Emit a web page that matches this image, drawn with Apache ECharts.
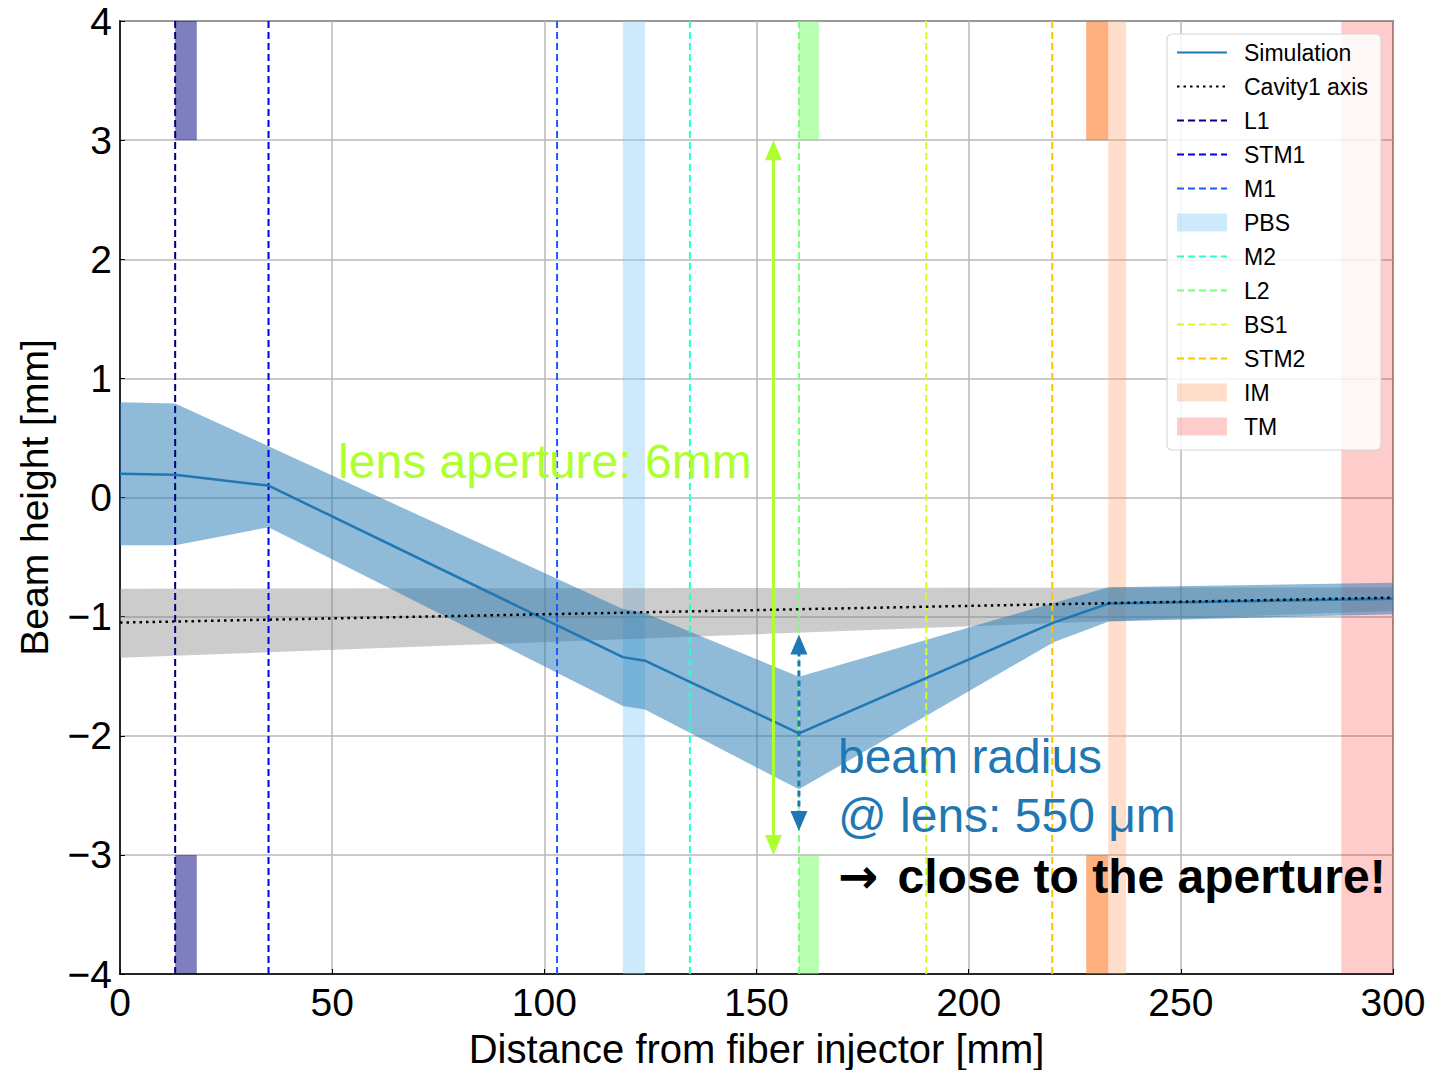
<!DOCTYPE html>
<html><head><meta charset="utf-8">
<script src="https://cdn.jsdelivr.net/npm/echarts@6/dist/echarts.min.js"></script>
<style>html,body{margin:0;padding:0;background:#fff}#c{width:1431px;height:1070px}</style>
</head><body><div id="c"></div>
<script>
// ---------- data ----------
const yTickValues = [-4, -3, -2, -1, 0, 1, 2, 3, 4];
const yTickLabels = ['\u22124', '\u22123', '\u22122', '\u22121', '0', '1', '2', '3', '4'];
const xTickValues = [0, 50, 100, 150, 200, 250, 300];
const xTickLabels = ['0', '50', '100', '150', '200', '250', '300'];

const simX     = [0, 13, 35, 118.5, 123.7, 160, 220, 233, 300];
const simY     = [0.20, 0.19, 0.10, -1.34, -1.37, -1.98, -1.05, -0.89, -0.85];
const simUpper = [0.80, 0.79, 0.43, -0.935, -0.97, -1.505, -0.885, -0.753, -0.716];
const simLower = [-0.40, -0.40, -0.25, -1.75, -1.78, -2.45, -1.215, -1.04, -0.98];

const cavX     = [0, 300];
const cavY     = [-1.05, -0.84];
const cavUpper = [-0.765, -0.755];
const cavLower = [-1.345, -0.95];

const elementNames = ['L1', 'STM1', 'M1', 'M2', 'L2', 'BS1', 'STM2'];
const elementX     = [13, 35, 103, 134.3, 160, 190, 219.7];

const bandNames = ['PBS', 'IM', 'TM'];
const bandStart = [118.5, 232.9, 287.8];
const bandEnd   = [123.7, 237.1, 300];

const apertureStart = [13, 160, 227.7];
const apertureEnd   = [18.1, 164.7, 232.9];
const apertureYRanges = [[3, 4], [-4, -3]];

// double-headed arrows: x, y at first tip, y at second tip
const arrowX  = [154, 160];
const arrowY0 = [3, -1.15];
const arrowY1 = [-3, -2.8];

const noteText = ['lens aperture: 6mm', 'beam radius', '@ lens: 550 \u03bcm', '{arr|\u2192} close to the aperture!'];
const noteX = [51.4, 169.2, 169.2, 169.2];
const noteY = [0.30, -2.17, -2.67, -3.18];

// ---------- styles ----------
const FONT = '"Liberation Sans", Arial, Helvetica, sans-serif';
const elementColors = ['#000080', '#0000f0', '#1a5cff', '#29ffce', '#7dff7a', '#ceff29', '#ffc400'];
const bandColors = ['rgba(135,206,250,0.42)', 'rgba(255,160,110,0.35)', 'rgba(255,0,0,0.2)'];
const apertureColors = ['rgba(0,0,128,0.5)', 'rgba(113,255,100,0.5)', 'rgba(255,97,0,0.5)'];
const arrowStyles = [
  {color: '#adff2f', dash: null},
  {color: '#1f77b4', dash: [6, 4]}
];
const noteStyles = [
  {color: '#adff2f', fontWeight: 'normal'},
  {color: '#1f77b4', fontWeight: 'normal'},
  {color: '#1f77b4', fontWeight: 'normal'},
  {color: '#000000', fontWeight: 'bold'}
];

function bandPolygon(name, xs, lo, hi, fill, z) {
  return {
    type: 'custom', name: name, z: z, silent: true, clip: true,
    data: xs.map((x, i) => [x, lo[i], hi[i]]),
    encode: {x: 0, y: [1, 2]},
    renderItem: function (params, api) {
      if (params.dataIndex !== 0) return null;
      const pts = [];
      for (let i = 0; i < xs.length; i++) pts.push(api.coord([xs[i], hi[i]]));
      for (let i = xs.length - 1; i >= 0; i--) pts.push(api.coord([xs[i], lo[i]]));
      return {type: 'polygon', shape: {points: pts}, style: {fill: fill}};
    }
  };
}

const series = [];

// full-height bands (PBS, IM, TM)
bandNames.forEach((n, i) => {
  series.push({
    type: 'line', name: n, data: [], z: 1, symbol: 'none',
    itemStyle: {color: bandColors[i]}, lineStyle: {color: bandColors[i]},
    markArea: {silent: true, itemStyle: {color: bandColors[i]},
      data: [[{xAxis: bandStart[i]}, {xAxis: bandEnd[i]}]]}
  });
});

// aperture blocks
const apData = [];
apertureStart.forEach((s, i) => {
  apertureYRanges.forEach(r => {
    apData.push([{coord: [s, r[0]], itemStyle: {color: apertureColors[i]}}, {coord: [apertureEnd[i], r[1]]}]);
  });
});
series.push({type: 'line', name: 'apertures', data: [], z: 1, symbol: 'none',
  markArea: {silent: true, data: apData}});

// cavity band and simulation band
series.push(bandPolygon('cavityBand', cavX, cavLower, cavUpper, 'rgba(128,128,128,0.4)', 2));
series.push(bandPolygon('simBand', simX, simLower, simUpper, 'rgba(31,119,180,0.5)', 3));

// lines
series.push({type: 'line', name: 'Simulation', z: 5, symbol: 'none',
  data: simX.map((x, i) => [x, simY[i]]),
  itemStyle: {color: '#1f77b4'}, lineStyle: {color: '#1f77b4', width: 2.5}});
series.push({type: 'line', name: 'Cavity1 axis', z: 5, symbol: 'none',
  data: cavX.map((x, i) => [x, cavY[i]]),
  itemStyle: {color: '#000'}, lineStyle: {color: '#000', width: 2.5, type: [2.5, 4]}});

elementNames.forEach((n, i) => {
  series.push({type: 'line', name: n, z: 4, symbol: 'none',
    data: [[elementX[i], yTickValues[0]], [elementX[i], yTickValues[yTickValues.length - 1]]],
    itemStyle: {color: elementColors[i]},
    lineStyle: {color: elementColors[i], width: 2, type: [7, 4]}});
});

// arrows (custom: shaft + two triangular heads, tips at data points)
const HEAD_L = 20, HEAD_W = 8.5;
series.push({type: 'custom', name: 'arrows', z: 6, silent: true, clip: false,
  data: arrowX.map((x, i) => [x, arrowY0[i], arrowY1[i]]),
  encode: {x: 0, y: [1, 2]},
  renderItem: function (params, api) {
    const i = params.dataIndex;
    const a = api.coord([api.value(0), api.value(1)]);
    const b = api.coord([api.value(0), api.value(2)]);
    const dx = b[0] - a[0], dy = b[1] - a[1];
    const len = Math.sqrt(dx * dx + dy * dy);
    const ux = dx / len, uy = dy / len, px = -uy, py = ux;
    const col = arrowStyles[i].color;
    const head = (tip, s) => {
      const bx = tip[0] + s * ux * HEAD_L, by = tip[1] + s * uy * HEAD_L;
      return {type: 'polygon', shape: {points: [tip, [bx + px * HEAD_W, by + py * HEAD_W], [bx - px * HEAD_W, by - py * HEAD_W]]},
        style: {fill: col}};
    };
    return {type: 'group', children: [
      {type: 'line', shape: {x1: a[0] + ux * HEAD_L * 0.8, y1: a[1] + uy * HEAD_L * 0.8,
        x2: b[0] - ux * HEAD_L * 0.8, y2: b[1] - uy * HEAD_L * 0.8},
        style: {stroke: col, lineWidth: 3, lineDash: arrowStyles[i].dash}},
      head(a, 1), head(b, -1)
    ]};
  }});

// text notes
series.push({type: 'scatter', name: 'notes', z: 7, symbolSize: 0, silent: true,
  itemStyle: {opacity: 1},
  data: noteText.map((t, i) => ({
    value: [noteX[i], noteY[i]],
    itemStyle: {opacity: 1},
    label: {show: true, formatter: t, position: 'right', distance: 0, opacity: 1,
      fontFamily: FONT, fontSize: 48, color: noteStyles[i].color, fontWeight: noteStyles[i].fontWeight,
      rich: {arr: {fontFamily: '"DejaVu Sans", sans-serif', fontWeight: 'bold', fontSize: 48, color: '#000', padding: [0, 6, 0, 0]}}}
  }))});

const lineItem = n => ({name: n, itemStyle: {opacity: 0}});
const rectItem = n => ({name: n, icon: 'rect'});

const option = {
  animation: false,
  backgroundColor: '#fff',
  grid: {left: 120, right: 38, top: 21, bottom: 96, show: true, borderColor: '#000', borderWidth: 1.5,
    backgroundColor: 'transparent', containLabel: false, outerBoundsMode: 'none'},
  xAxis: {
    type: 'value', min: xTickValues[0], max: xTickValues[xTickValues.length - 1], interval: 50,
    name: 'Distance from fiber injector [mm]', nameLocation: 'middle', nameGap: 55,
    nameTextStyle: {fontFamily: FONT, fontSize: 40, color: '#000'},
    axisLine: {show: true, onZero: false, lineStyle: {color: '#000', width: 1.5}},
    axisTick: {show: true, inside: true, length: 5, lineStyle: {color: '#000'}},
    axisLabel: {fontFamily: FONT, fontSize: 39, color: '#000', margin: 9,
      formatter: v => xTickLabels[xTickValues.indexOf(v)]},
    splitLine: {show: true, lineStyle: {color: '#b8b8b8', width: 1.5}}
  },
  yAxis: {
    type: 'value', min: yTickValues[0], max: yTickValues[yTickValues.length - 1], interval: 1,
    name: 'Beam height [mm]', nameLocation: 'middle', nameGap: 66,
    nameTextStyle: {fontFamily: FONT, fontSize: 39, color: '#000'},
    axisLine: {show: true, onZero: false, lineStyle: {color: '#000', width: 1.5}},
    axisTick: {show: true, inside: true, length: 5, lineStyle: {color: '#000'}},
    axisLabel: {fontFamily: FONT, fontSize: 39, color: '#000', margin: 8,
      formatter: v => yTickLabels[yTickValues.indexOf(v)]},
    splitLine: {show: true, lineStyle: {color: '#b8b8b8', width: 1.5}}
  },
  legend: {
    orient: 'vertical', left: 1167, top: 34, selectedMode: false,
    padding: [7, 13, 12, 9], itemGap: 11, itemWidth: 50, itemHeight: 18,
    backgroundColor: 'rgba(255,255,255,0.82)', borderColor: '#d8d8d8', borderWidth: 1.2, borderRadius: 5,
    textStyle: {fontFamily: FONT, fontSize: 23, color: '#000', padding: [0, 0, 0, 12]},
    itemStyle: {borderWidth: 0},
    data: [
      lineItem('Simulation'), lineItem('Cavity1 axis'), lineItem('L1'), lineItem('STM1'), lineItem('M1'),
      rectItem('PBS'), lineItem('M2'), lineItem('L2'), lineItem('BS1'), lineItem('STM2'),
      rectItem('IM'), rectItem('TM')
    ]
  },
  series: series
};

const chart = echarts.init(document.getElementById('c'), null, {renderer: 'svg'});
chart.setOption(option);
</script>
</body></html>
